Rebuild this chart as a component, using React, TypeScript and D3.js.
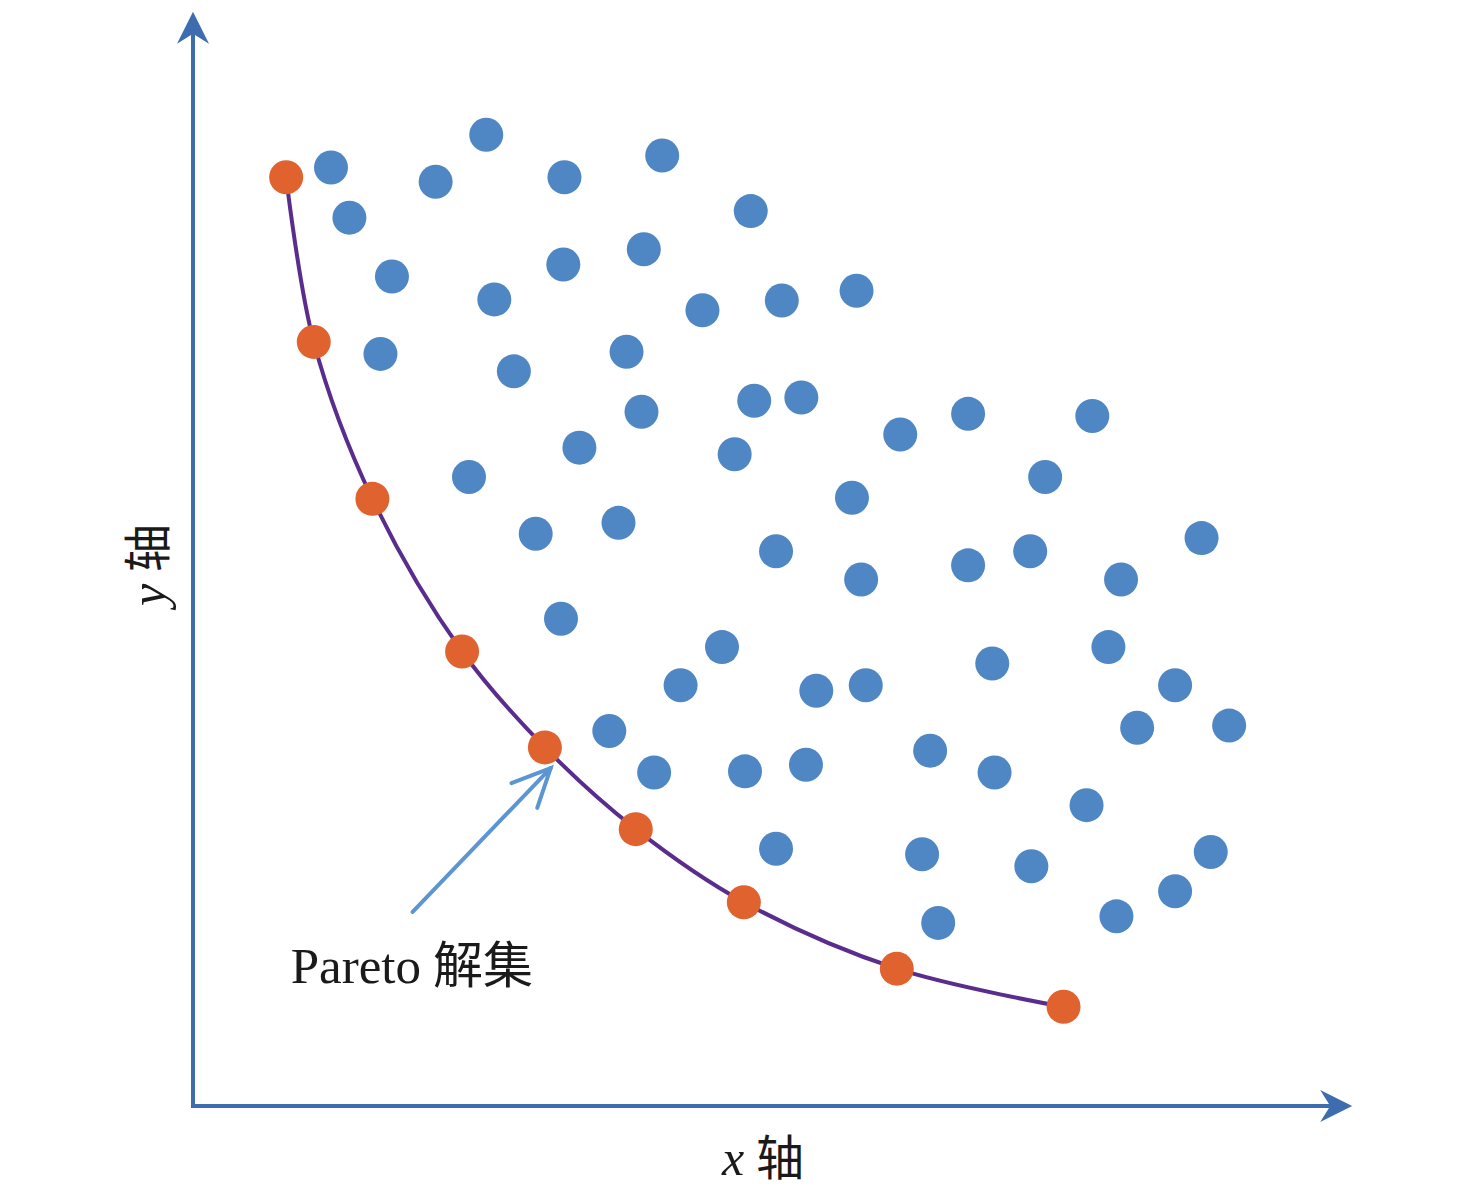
import React from "react";
import * as d3 from "d3";

// Dominated solutions (blue)
const blueX = [1.20, 1.36, 2.11, 2.55, 3.23, 4.08, 4.85, 1.73, 2.62, 3.22, 3.92, 4.43, 5.12, 5.77, 1.63, 2.79, 3.77, 3.90, 4.88, 5.29, 6.15, 6.74, 7.82, 3.36, 4.71, 2.40, 7.41, 5.73, 2.98, 3.70, 5.07, 5.81, 6.74, 7.28, 8.07, 8.77, 3.20, 4.60, 6.95, 7.96, 4.24, 5.42, 5.85, 8.54, 8.21, 9.01, 3.62, 4.01, 4.80, 5.33, 6.41, 6.97, 7.77, 5.07, 6.34, 7.29, 8.85, 8.54, 6.48, 8.03];
const blueY = [8.61, 8.15, 8.48, 8.91, 8.52, 8.72, 8.21, 7.61, 7.40, 7.72, 7.86, 7.30, 7.39, 7.48, 6.90, 6.74, 6.92, 6.37, 6.47, 6.50, 6.16, 6.35, 6.33, 6.04, 5.98, 5.77, 5.77, 5.58, 5.25, 5.35, 5.09, 4.83, 4.96, 5.09, 4.83, 5.21, 4.47, 4.21, 4.06, 4.21, 3.86, 3.81, 3.86, 3.86, 3.47, 3.49, 3.44, 3.06, 3.07, 3.13, 3.26, 3.06, 2.76, 2.36, 2.31, 2.20, 2.33, 1.97, 1.68, 1.74];

// Pareto front (orange)
const paretoX = [0.81, 1.05, 1.56, 2.34, 3.06, 3.85, 4.79, 6.12, 7.57];
const paretoY = [8.52, 7.01, 5.57, 4.17, 3.29, 2.54, 1.87, 1.26, 0.91];

const xAxisMax = 10.08;
const yAxisMax = 10.04;
const annotationFrom = [1.91, 1.78];
const annotationTo = [3.11, 3.10];
const annotationTextPos = [0.85, 1.13];
const annotationLabel = ["Pareto", "解集"];
const xLabel = ["x", "轴"];
const yLabel = ["y", "轴"];

const W = 1476;
const H = 1192;

export default function App() {
  const x = d3.scaleLinear().domain([0, 10]).range([193, 1343]);
  const y = d3.scaleLinear().domain([0, 10]).range([1106, 16]);

  const blue = blueX.map((v, i) => ({ x: v, y: blueY[i] }));
  const pareto = paretoX.map((v, i) => ({ x: v, y: paretoY[i] }));

  const line = d3
    .line<{ x: number; y: number }>()
    .x((d) => x(d.x))
    .y((d) => y(d.y))
    .curve(d3.curveCatmullRom.alpha(0.5));

  const axisColor = "#3e6daf";
  const x0 = x(0);
  const y0 = y(0);
  const xEnd = x(xAxisMax);
  const yEnd = y(yAxisMax);

  // annotation arrow geometry
  const ax1 = x(annotationFrom[0]);
  const ay1 = y(annotationFrom[1]);
  const ax2 = x(annotationTo[0]);
  const ay2 = y(annotationTo[1]);
  const ang = Math.atan2(ay2 - ay1, ax2 - ax1);
  const headLen = 42;
  const headSpread = 0.44;
  const h1 = [ax2 - headLen * Math.cos(ang - headSpread), ay2 - headLen * Math.sin(ang - headSpread)];
  const h2 = [ax2 - headLen * Math.cos(ang + headSpread), ay2 - headLen * Math.sin(ang + headSpread)];

  const serif = "'Liberation Serif', 'Times New Roman', 'Noto Sans CJK SC', serif";
  const cjk = "'Noto Sans CJK SC', sans-serif";

  return (
    <svg
      width={W}
      height={H}
      style={{ position: "absolute", left: 0, top: 0, display: "block", background: "#fff" }}
    >
      {/* axes */}
      <line x1={x0} y1={y0} x2={xEnd - 6} y2={y0} stroke={axisColor} strokeWidth={4} />
      <line x1={x0} y1={y0 + 2} x2={x0} y2={yEnd + 6} stroke={axisColor} strokeWidth={4} />
      <path
        d={`M${xEnd},${y0} L${xEnd - 32},${y0 - 16} L${xEnd - 22},${y0} L${xEnd - 32},${y0 + 16} Z`}
        fill={axisColor}
      />
      <path
        d={`M${x0},${yEnd} L${x0 - 16},${yEnd + 32} L${x0},${yEnd + 22} L${x0 + 16},${yEnd + 32} Z`}
        fill={axisColor}
      />

      {/* Pareto curve */}
      <path d={line(pareto) || ""} fill="none" stroke="#5a2c8c" strokeWidth={4} />

      {/* dominated points */}
      {blue.map((d, i) => (
        <circle key={"b" + i} cx={x(d.x)} cy={y(d.y)} r={17} fill="#4f87c5" />
      ))}

      {/* Pareto points */}
      {pareto.map((d, i) => (
        <circle key={"p" + i} cx={x(d.x)} cy={y(d.y)} r={17} fill="#e0622e" />
      ))}

      {/* annotation arrow */}
      <g stroke="#5b95d2" strokeWidth={4} fill="none" strokeLinecap="round">
        <line x1={ax1} y1={ay1} x2={ax2} y2={ay2} />
        <polyline points={`${h1[0]},${h1[1]} ${ax2},${ay2} ${h2[0]},${h2[1]}`} />
      </g>
      <text
        x={x(annotationTextPos[0])}
        y={y(annotationTextPos[1])}
        fontFamily={serif}
        fontSize={51}
        fill="#1a1a1a"
      >
        {annotationLabel[0]}
        <tspan dx={12} fontFamily={cjk} fontSize={50}>
          {annotationLabel[1]}
        </tspan>
      </text>

      {/* axis labels */}
      <text x={763} y={1175} textAnchor="middle" fontFamily={serif} fontSize={50} fill="#1a1a1a">
        <tspan fontStyle="italic">{xLabel[0]}</tspan>
        <tspan dx={12} fontFamily={cjk} fontSize={48}>
          {xLabel[1]}
        </tspan>
      </text>
      <text
        transform={`translate(165, 565) rotate(-90)`}
        textAnchor="middle"
        fontFamily={serif}
        fontSize={50}
        fill="#1a1a1a"
      >
        <tspan fontStyle="italic">{yLabel[0]}</tspan>
        <tspan dx={12} fontFamily={cjk} fontSize={48}>
          {yLabel[1]}
        </tspan>
      </text>
    </svg>
  );
}
